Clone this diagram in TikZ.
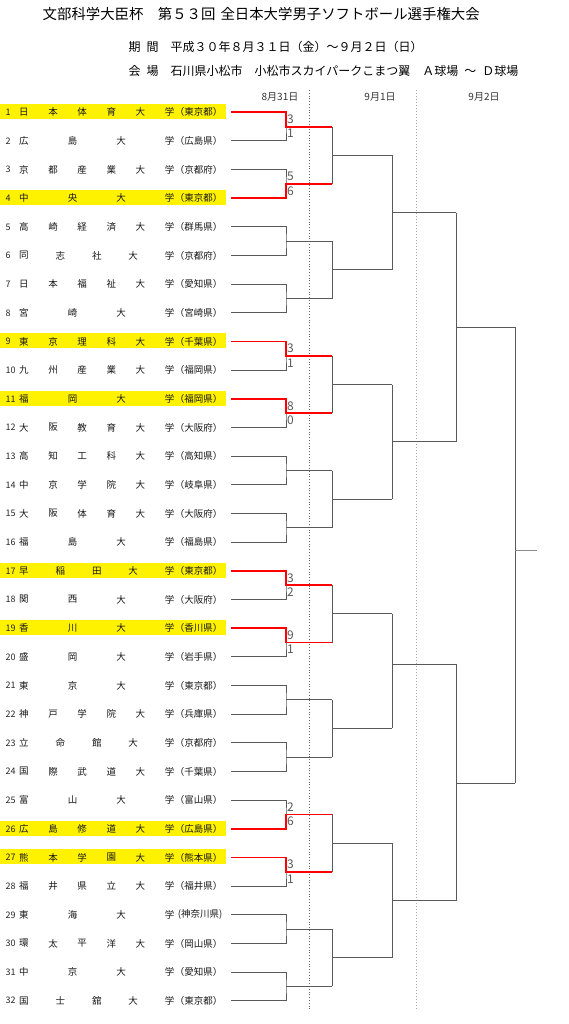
\documentclass[tikz,border=0pt]{standalone}
\usepackage{fontspec}
\setmainfont{Noto Sans CJK JP}
\newcommand\fs[1]{\fontsize{#1}{#1}\selectfont}
\newcommand\teamrow[5]{%
  \pgfmathsetmacro\ty{112.3+(#1-1)*28.66}%
  \ifnum#5=1 \fill[hl] (0,\ty-8.3) rectangle (226,\ty+6.7);\fi
  \node[rownum] (n#1) at (5.5,\ty) {#1};%
  \foreach \chr [count=\kk] in {#3} {\node[ch] (c#1-\kk) at ({24+(\kk-1)*145.5/(#2-1)},\ty) {\chr};}%
  \node[pref] (p#1) at (222.5,\ty) {#4};%
  \coordinate (L#1) at (231,\ty);%
}
\begin{document}
\begin{tikzpicture}[x=1pt,y=-1pt,
  br/.style={draw=black!65,line width=1pt},
  win/.style={draw=red,line width=1.8pt},
  ch/.style={font=\fs{9.5},text=black!90,inner sep=0},
  rownum/.style={font=\fs{9},text=black!85,inner sep=0,anchor=west},
  pref/.style={font=\fs{9.5},text=black!90,inner sep=0,anchor=east},
  score/.style={font=\fs{12},text=black!65,inner sep=0,anchor=west},
  hdr/.style={font=\fs{10},text=black!80,inner sep=0},
  hl/.style={fill=yellow},
  sepa/.style={draw=black!60,dotted,line width=0.8pt},
  sepb/.style={draw=black!35,dotted,line width=1pt},
  head/.style={anchor=west,inner sep=0,text=black}]
\useasboundingbox (0,0) rectangle (568,1024);

% titles
\node[head,font=\fs{14.4}] (title) at (42.5,14) {文部科学大臣杯　第５３回\hspace{0.35em}全日本大学男子ソフトボール選手権大会};
\node[head,font=\fs{12}] (period) at (128.5,47) {期\hspace{0.5em}間　平成３０年８月３１日（金）～９月２日（日）};
\node[head,font=\fs{12}] (venue) at (128.5,71) {会\hspace{0.5em}場　石川県小松市　小松市スカイパークこまつ翼　Ａ球場\hspace{0.5em}～\hspace{0.5em}Ｄ球場};

% day headers
\node[hdr] (d1) at (280,97) {8月31日};
\node[hdr] (d2) at (380,97) {9月1日};
\node[hdr] (d3) at (484,97) {9月2日};

% day separators
\coordinate (s1t) at (309.5,90); \coordinate (s1b) at (309.5,1010);
\coordinate (s2t) at (416.8,90); \coordinate (s2b) at (416.8,1010);
\draw[sepa] (s1t) -- (s1b);
\draw[sepb] (s2t) -- (s2b);

% teams
\teamrow{1}{6}{日,本,体,育,大,学}{（東京都）}{1}
\teamrow{2}{4}{広,島,大,学}{（広島県）}{0}
\teamrow{3}{6}{京,都,産,業,大,学}{（京都府）}{0}
\teamrow{4}{4}{中,央,大,学}{（東京都）}{1}
\teamrow{5}{6}{高,崎,経,済,大,学}{（群馬県）}{0}
\teamrow{6}{5}{同,志,社,大,学}{（京都府）}{0}
\teamrow{7}{6}{日,本,福,祉,大,学}{（愛知県）}{0}
\teamrow{8}{4}{宮,崎,大,学}{（宮崎県）}{0}
\teamrow{9}{6}{東,京,理,科,大,学}{（千葉県）}{1}
\teamrow{10}{6}{九,州,産,業,大,学}{（福岡県）}{0}
\teamrow{11}{4}{福,岡,大,学}{（福岡県）}{1}
\teamrow{12}{6}{大,阪,教,育,大,学}{（大阪府）}{0}
\teamrow{13}{6}{高,知,工,科,大,学}{（高知県）}{0}
\teamrow{14}{6}{中,京,学,院,大,学}{（岐阜県）}{0}
\teamrow{15}{6}{大,阪,体,育,大,学}{（大阪府）}{0}
\teamrow{16}{4}{福,島,大,学}{（福島県）}{0}
\teamrow{17}{5}{早,稲,田,大,学}{（東京都）}{1}
\teamrow{18}{4}{関,西,大,学}{（大阪府）}{0}
\teamrow{19}{4}{香,川,大,学}{（香川県）}{1}
\teamrow{20}{4}{盛,岡,大,学}{（岩手県）}{0}
\teamrow{21}{4}{東,京,大,学}{（東京都）}{0}
\teamrow{22}{6}{神,戸,学,院,大,学}{（兵庫県）}{0}
\teamrow{23}{5}{立,命,館,大,学}{（京都府）}{0}
\teamrow{24}{6}{国,際,武,道,大,学}{（千葉県）}{0}
\teamrow{25}{4}{富,山,大,学}{（富山県）}{0}
\teamrow{26}{6}{広,島,修,道,大,学}{（広島県）}{1}
\teamrow{27}{6}{熊,本,学,園,大,学}{（熊本県）}{1}
\teamrow{28}{6}{福,井,県,立,大,学}{（福井県）}{0}
\teamrow{29}{4}{東,海,大,学}{(神奈川県)}{0}
\teamrow{30}{6}{環,太,平,洋,大,学}{（岡山県）}{0}
\teamrow{31}{4}{中,京,大,学}{（愛知県）}{0}
\teamrow{32}{5}{国,士,舘,大,学}{（東京都）}{0}

% round 1
\foreach \m in {1,...,16}{
  \pgfmathtruncatemacro\ia{2*\m-1}
  \pgfmathtruncatemacro\ib{2*\m}
  \pgfmathsetmacro\ym{112.3+(2*\m-1.5)*28.66}
  \coordinate (J1-\m) at (286,\ym);
  \coordinate (O1-\m) at (332,\ym);
  \draw[br] (L\ia) -| (J1-\m) |- (L\ib);
  \draw[br] (J1-\m) -- (O1-\m);
}
% round 2
\foreach \k in {1,...,8}{
  \pgfmathtruncatemacro\ia{2*\k-1}
  \pgfmathtruncatemacro\ib{2*\k}
  \pgfmathsetmacro\ym{112.3+(4*\k-2.5)*28.66}
  \coordinate (J2-\k) at (332,\ym);
  \coordinate (O2-\k) at (392,\ym);
  \draw[br] (O1-\ia) -- (O1-\ib);
  \draw[br] (J2-\k) -- (O2-\k);
}
% round 3
\foreach \j/\ym in {1/212.6,2/441.9,3/664,4/900.7}{
  \pgfmathtruncatemacro\ia{2*\j-1}
  \pgfmathtruncatemacro\ib{2*\j}
  \coordinate (J3-\j) at (392,\ym);
  \coordinate (O3-\j) at (456,\ym);
  \draw[br] (O2-\ia) -- (O2-\ib);
  \draw[br] (J3-\j) -- (O3-\j);
}
% semifinals
\foreach \h/\ym in {1/327.3,2/783}{
  \pgfmathtruncatemacro\ia{2*\h-1}
  \pgfmathtruncatemacro\ib{2*\h}
  \coordinate (J4-\h) at (456,\ym);
  \coordinate (O4-\h) at (515,\ym);
  \draw[br] (O3-\ia) -- (O3-\ib);
  \draw[br] (J4-\h) -- (O4-\h);
}
% final
\coordinate (J5) at (515,550);
\coordinate (O5) at (537,550);
\draw[br] (O4-1) -- (O4-2);
\draw[br,draw=black!45] (J5) -- (O5);

% results of day one
\foreach \m/\st/\sb/\w in {1/3/1/1,2/5/6/2,5/3/1/1,6/8/0/1,9/3/2/1,10/9/1/1,13/2/6/2,14/3/1/1}{
  \pgfmathtruncatemacro\ia{2*\m-1}
  \pgfmathtruncatemacro\ib{2*\m}
  \pgfmathsetmacro\ya{112.3+(2*\m-2)*28.66}
  \node[score] (st\m) at (287,\ya+7) {\st};
  \node[score] (sb\m) at (287,\ya+21.4) {\sb};
  \ifnum\w=1
    \draw[win] (L\ia) -| (J1-\m) -- (O1-\m);
  \else
    \draw[win] (L\ib) -| (J1-\m) -- (O1-\m);
  \fi
}
\end{tikzpicture}
\end{document}
